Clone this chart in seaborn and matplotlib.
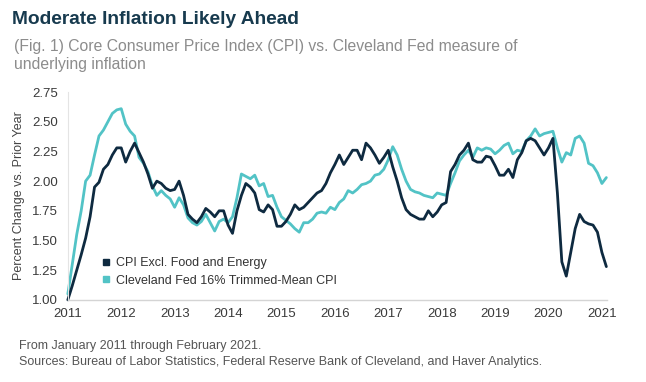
import numpy as np
import pandas as pd
import matplotlib
matplotlib.use('Agg')
import matplotlib.pyplot as plt
import seaborn as sns
from matplotlib.lines import Line2D

# Monthly values, January 2011 through February 2021 (percent change vs. prior year)
core_cpi = [
    1.00, 1.12, 1.25, 1.38, 1.52, 1.70, 1.95, 1.99, 2.10, 2.14, 2.22, 2.28,  # 2011
    2.28, 2.16, 2.25, 2.32, 2.24, 2.16, 2.06, 1.94, 2.00, 1.98, 1.94, 1.92,  # 2012
    1.93, 2.00, 1.88, 1.72, 1.68, 1.65, 1.70, 1.77, 1.74, 1.70, 1.75, 1.75,  # 2013
    1.63, 1.56, 1.75, 1.88, 1.98, 1.95, 1.90, 1.76, 1.74, 1.80, 1.76, 1.62,  # 2014
    1.62, 1.66, 1.72, 1.80, 1.76, 1.78, 1.82, 1.86, 1.90, 1.92, 1.98, 2.07,  # 2015
    2.14, 2.22, 2.14, 2.20, 2.26, 2.26, 2.18, 2.32, 2.28, 2.22, 2.15, 2.20,  # 2016
    2.26, 2.12, 2.00, 1.86, 1.76, 1.72, 1.70, 1.68, 1.68, 1.75, 1.70, 1.74,  # 2017
    1.80, 1.82, 2.08, 2.14, 2.22, 2.26, 2.32, 2.18, 2.16, 2.16, 2.21, 2.20,  # 2018
    2.13, 2.05, 2.05, 2.10, 2.03, 2.18, 2.24, 2.34, 2.36, 2.34, 2.28, 2.22,  # 2019
    2.28, 2.36, 1.90, 1.32, 1.20, 1.40, 1.60, 1.72, 1.66, 1.64, 1.63, 1.57,  # 2020
    1.40, 1.28,                                                              # 2021
]
trimmed_mean = [
    1.05, 1.30, 1.55, 1.75, 2.00, 2.05, 2.22, 2.38, 2.43, 2.50, 2.57, 2.60,  # 2011
    2.61, 2.48, 2.42, 2.38, 2.20, 2.15, 2.08, 1.96, 1.88, 1.92, 1.88, 1.85,  # 2012
    1.78, 1.86, 1.80, 1.69, 1.65, 1.63, 1.66, 1.72, 1.65, 1.58, 1.66, 1.68,  # 2013
    1.65, 1.70, 1.86, 2.06, 2.04, 2.02, 2.05, 1.96, 1.98, 1.87, 1.88, 1.78,  # 2014
    1.70, 1.67, 1.64, 1.60, 1.57, 1.65, 1.65, 1.68, 1.73, 1.74, 1.73, 1.78,  # 2015
    1.76, 1.82, 1.85, 1.92, 1.90, 1.93, 1.97, 1.98, 2.00, 2.05, 2.06, 2.10,  # 2016
    2.18, 2.29, 2.22, 2.10, 2.00, 1.93, 1.91, 1.90, 1.88, 1.87, 1.86, 1.90,  # 2017
    1.89, 1.88, 1.98, 2.07, 2.17, 2.22, 2.26, 2.20, 2.28, 2.26, 2.28, 2.27,  # 2018
    2.23, 2.26, 2.30, 2.32, 2.23, 2.26, 2.25, 2.34, 2.38, 2.44, 2.38, 2.40,  # 2019
    2.41, 2.42, 2.28, 2.16, 2.24, 2.22, 2.36, 2.38, 2.32, 2.15, 2.13, 2.07,  # 2020
    1.98, 2.03,                                                              # 2021
]
year_ticks = list(range(2011, 2022))
y_ticks = [1.00, 1.25, 1.50, 1.75, 2.00, 2.25, 2.50, 2.75]

series_names = ['CPI Excl. Food and Energy', 'Cleveland Fed 16% Trimmed-Mean CPI']
navy = '#0e2a40'
teal = '#52c3c6'

months = 2011 + np.arange(len(core_cpi)) / 12.0
df = pd.DataFrame({
    'date': np.concatenate([months, months]),
    'value': core_cpi + trimmed_mean,
    'series': [series_names[0]] * len(core_cpi) + [series_names[1]] * len(trimmed_mean),
})

sns.set_style('white')
plt.rcParams['font.family'] = ['Liberation Sans', 'DejaVu Sans']

fig = plt.figure(figsize=(6.46, 3.82), dpi=100)
ax = fig.add_axes([0.105, 0.215, 0.835, 0.544])

# draw the teal line first so the navy one sits on top
sns.lineplot(data=df, x='date', y='value', hue='series',
             hue_order=[series_names[1], series_names[0]],
             palette={series_names[0]: navy, series_names[1]: teal},
             linewidth=2.0, legend=False, ax=ax)
for ln in ax.lines:
    ln.set_clip_on(False)

ax.set_xlim(2011.0, 2021.1)
ax.set_ylim(1.0, 2.75)
ax.set_xticks(year_ticks)
ax.set_xticklabels([str(y) for y in year_ticks])
ax.set_yticks(y_ticks)
ax.set_yticklabels([f'{v:.2f}' for v in y_ticks])
ax.tick_params(axis='x', length=0, labelsize=9.5, colors='#3a3a3a', pad=6)
ax.tick_params(axis='y', length=6, direction='in', labelsize=9.5, colors='#3a3a3a',
               color='#dddddd', width=0.8, pad=7)
ax.set_xlabel('')
ax.set_ylabel('Percent Change vs. Prior Year', fontsize=9, color='#444444', labelpad=5)

for side in ['top', 'right']:
    ax.spines[side].set_visible(False)
ax.spines['left'].set_color('#e4e4e4')
ax.spines['left'].set_linewidth(0.8)
ax.spines['bottom'].set_color('#d4d4d4')
ax.spines['bottom'].set_linewidth(1.0)

handles = [Line2D([0], [0], marker='s', color='none', markerfacecolor=navy,
                  markeredgecolor=navy, markersize=5),
           Line2D([0], [0], marker='s', color='none', markerfacecolor=teal,
                  markeredgecolor=teal, markersize=5)]
ax.legend(handles, series_names, loc='lower left', bbox_to_anchor=(0.055, 0.04),
          frameon=False, fontsize=9, handlelength=0.6, handletextpad=0.5,
          labelspacing=0.45, labelcolor='#333333', borderaxespad=0)

fig.text(0.019, 0.948, 'Moderate Inflation Likely Ahead', fontsize=13.8, fontweight='bold',
         color='#173a4e', va='center', ha='left')
fig.text(0.021, 0.878, '(Fig. 1) Core Consumer Price Index (CPI) vs. Cleveland Fed measure of',
         fontsize=11.3, color='#8c8c8c', va='center', ha='left')
fig.text(0.021, 0.83, 'underlying inflation', fontsize=11.3, color='#8c8c8c',
         va='center', ha='left')
fig.text(0.029, 0.094, 'From January 2011 through February 2021.', fontsize=9,
         color='#555555', va='center', ha='left')
fig.text(0.029, 0.052, 'Sources: Bureau of Labor Statistics, Federal Reserve Bank of Cleveland, '
         'and Haver Analytics.', fontsize=9, color='#555555', va='center', ha='left')

fig.savefig('out.png', dpi=100)
